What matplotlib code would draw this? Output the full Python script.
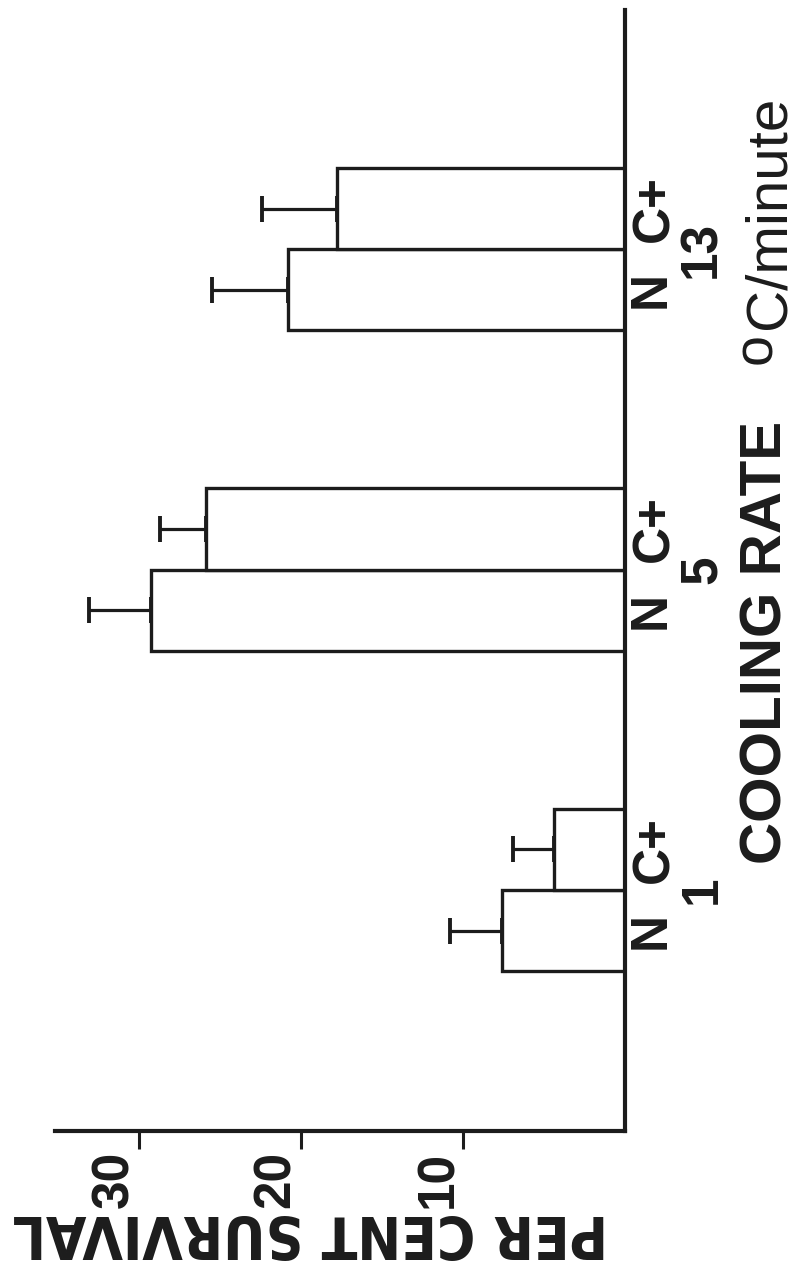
import numpy as np
import matplotlib
matplotlib.use('Agg')
import matplotlib.pyplot as plt
from matplotlib import font_manager
from matplotlib.font_manager import FontProperties
from matplotlib.transforms import blended_transform_factory

# cooling rate groups (oC/minute) and per cent survival, N and C+
rates = ['1', '5', '13']
n_surv = [7.6, 29.3, 20.8]
n_err = [3.2, 3.8, 4.7]
c_surv = [4.4, 25.9, 17.8]
c_err = [2.5, 2.8, 4.6]
xticks = [10, 20, 30]

font = 'Liberation Sans'
ink = '#1c1c1c'

# a narrow bold face for the y label if one is installed
narrow = None
for f in font_manager.fontManager.ttflist:
    if ('Narrow' in f.name or 'Condensed' in f.name or 'condensed' in str(f.stretch)) \
            and f.weight in ('bold', 700, 'heavy') and f.style == 'normal':
        narrow = f.fname
        break
if narrow:
    ylab_font = FontProperties(fname=narrow)
else:
    ylab_font = FontProperties(family=font, weight='bold')

W, H = 802, 1266
fig = plt.figure(figsize=(W / 100, H / 100), dpi=100)
fig.patch.set_facecolor('white')
ax = fig.add_axes([55 / W, 1 - 1131 / H, (625 - 55) / W, (1131 - 10) / H])

pos = np.arange(len(rates))
bh = 0.253
ax.barh(pos - bh / 2, n_surv, height=bh, color='white', edgecolor=ink, linewidth=2.4)
ax.barh(pos + bh / 2, c_surv, height=bh, color='white', edgecolor=ink, linewidth=2.4)
ax.errorbar(n_surv, pos - bh / 2, xerr=[np.zeros(len(n_err)), n_err], fmt='none',
            ecolor=ink, elinewidth=2.3, capsize=9.5, capthick=2.8)
ax.errorbar(c_surv, pos + bh / 2, xerr=[np.zeros(len(c_err)), c_err], fmt='none',
            ecolor=ink, elinewidth=2.3, capsize=9.5, capthick=2.8)

ax.set_xlim(35.2, 0)
ax.set_ylim(-0.752, 2.746)

for s in ['left', 'top']:
    ax.spines[s].set_visible(False)
for s in ['right', 'bottom']:
    ax.spines[s].set_linewidth(3.0)
    ax.spines[s].set_color(ink)

ax.set_yticks([])
ax.set_xticks(xticks)
ax.set_xticklabels([str(v) for v in xticks], rotation=90, ha='right',
                   fontsize=37, fontweight='bold', family=font, color=ink)
ax.tick_params(axis='x', direction='out', length=13, width=2.2, pad=1, color=ink)

tr = blended_transform_factory(fig.transFigure, ax.transData)
for i in range(len(rates)):
    ax.text(651 / W, pos[i] - bh / 2, 'N', transform=tr, rotation=90, ha='center',
            va='center', fontsize=37, fontweight='bold', family=font, color=ink)
    ax.text(655 / W, pos[i] + bh / 2, 'C+', transform=tr, rotation=90, ha='center',
            va='center', fontsize=37, fontweight='bold', family=font, color=ink)
    ax.text(702 / W, pos[i], rates[i], transform=tr, rotation=90, ha='center',
            va='center', fontsize=37, fontweight='bold', family=font, color=ink)

fig.text(767 / W, 1 - 642 / H, 'COOLING RATE', rotation=90, ha='center', va='center',
         fontsize=42, fontweight='bold', family=font, color=ink)
fig.text(769 / W, 1 - 212 / H, 'C/minute', rotation=90, ha='center', va='center',
         fontsize=42, family=font, color=ink)
fig.text(757 / W, 1 - 349 / H, 'o', rotation=90, ha='center', va='center',
         fontsize=40, family=font, color=ink)

ylab = fig.text(310 / W, 1 - 1232 / H, 'PER CENT SURVIVAL', rotation=180, ha='center',
                va='center', fontproperties=ylab_font, color=ink)
ylab.set_fontsize(40)
fig.canvas.draw()
w = ylab.get_window_extent().width
ylab.set_fontsize(min(50, 40 * 596 / w))

fig.savefig('out.png', dpi=100, facecolor='white')
